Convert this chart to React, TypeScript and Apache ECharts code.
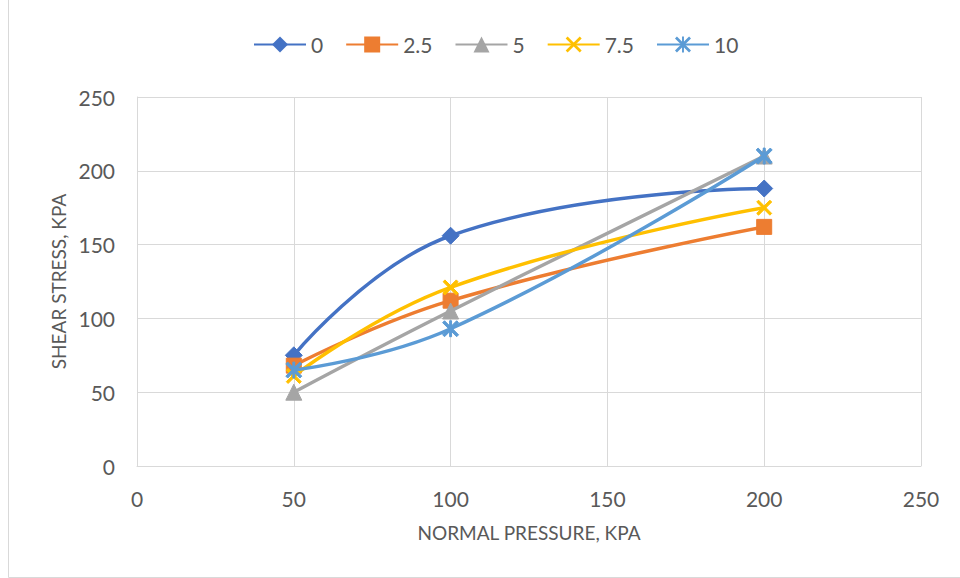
import React, { useEffect, useRef } from "react";
import * as echarts from "echarts";

const xValues = [50, 100, 200];
const seriesNames = ["0", "2.5", "5", "7.5", "10"];
const s0 = [75, 156, 188];
const s25 = [68, 112, 162];
const s5 = [50, 105, 210];
const s75 = [61, 121, 175];
const s10 = [65, 93, 210];
const xTicks = [0, 50, 100, 150, 200, 250];
const yTicks = [0, 50, 100, 150, 200, 250];

const colors = ["#4472C4", "#ED7D31", "#A5A5A5", "#FFC000", "#5B9BD5"];
const xSym = "path://M0,1.2 L1.2,0 L10,8.8 L8.8,10 Z M8.8,0 L10,1.2 L1.2,10 L0,8.8 Z";
const starSym =
  "path://M0,1.2 L1.2,0 L10,8.8 L8.8,10 Z M8.8,0 L10,1.2 L1.2,10 L0,8.8 Z M4.4,0 L5.6,0 L5.6,10 L4.4,10 Z";
const symbols = ["diamond", "rect", "triangle", xSym, starSym];
const symbolSizes = [17, 15, 16, 15, 16];

export default function App() {
  const ref = useRef<HTMLDivElement>(null);
  useEffect(() => {
    document.body.style.margin = "0";
    const chart = echarts.init(ref.current!, null, { renderer: "svg" });
    const data = [s0, s25, s5, s75, s10];
    const font = "Lato, 'Open Sans', sans-serif";
    chart.setOption({
      animation: false,
      backgroundColor: "#ffffff",
      color: colors,
      textStyle: { fontFamily: font },
      graphic: [
        {
          type: "rect",
          shape: { x: 8.5, y: -1, width: 960, height: 578.5 },
          style: { fill: "none", stroke: "#d9d9d9", lineWidth: 1 },
          silent: true,
        },
      ],
      legend: {
        top: 29,
        left: 248,
        itemWidth: 52,
        itemHeight: 20,
        itemGap: 22,
        textStyle: { color: "#595959", fontSize: 21, fontFamily: font },
        data: seriesNames,
      },
      grid: { left: 137, right: 39, top: 97, bottom: 112 },
      xAxis: {
        type: "value",
        min: xTicks[0],
        max: xTicks[xTicks.length - 1],
        interval: 50,
        name: "NORMAL PRESSURE, KPA",
        nameLocation: "middle",
        nameGap: 57,
        nameTextStyle: { color: "#595959", fontSize: 19, fontFamily: font },
        axisLine: { show: true, lineStyle: { color: "#d9d9d9" } },
        axisTick: { show: false },
        axisLabel: { color: "#595959", fontSize: 21, margin: 22, fontFamily: font },
        splitLine: { show: true, lineStyle: { color: "#d9d9d9", width: 1 } },
      },
      yAxis: {
        type: "value",
        min: yTicks[0],
        max: yTicks[yTicks.length - 1],
        interval: 50,
        name: "SHEAR STRESS, KPA",
        nameLocation: "middle",
        nameGap: 68,
        nameRotate: 90,
        nameTextStyle: { color: "#595959", fontSize: 19, fontFamily: font },
        axisLine: { show: true, lineStyle: { color: "#d9d9d9" } },
        axisTick: { show: false },
        axisLabel: { color: "#595959", fontSize: 21, margin: 22, fontFamily: font },
        splitLine: { show: true, lineStyle: { color: "#d9d9d9", width: 1 } },
      },
      series: seriesNames.map((name, i) => ({
        name,
        type: "line",
        smooth: 0.45,
        data: xValues.map((x, j) => [x, data[i][j]]),
        symbol: symbols[i],
        symbolSize: symbolSizes[i],
        showAllSymbol: true,
        lineStyle: { width: 3.5, color: colors[i] },
        itemStyle: { color: colors[i], borderColor: colors[i] },
        z: 2 + i,
      })),
    });
    return () => chart.dispose();
  }, []);
  return <div ref={ref} style={{ width: 960, height: 578 }} />;
}
